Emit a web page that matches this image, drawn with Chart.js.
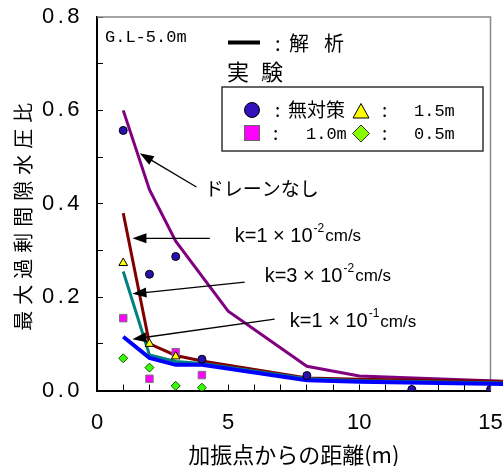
<!DOCTYPE html>
<html>
<head>
<meta charset="utf-8">
<script src="https://cdn.jsdelivr.net/npm/chart.js@4.4.1/dist/chart.umd.min.js"></script>
<style>
body { margin: 0; background: #fff; }
#wrap { width: 503px; height: 466px; }
</style>
</head>
<body>
<div id="wrap"><canvas id="myChart" width="503" height="466"></canvas></div>
<script>
// analysis curves: distance from source (m) -> max excess pore pressure ratio
var noDrainX = [1, 2, 3, 5, 8, 10, 15.5];
var noDrainY = [0.60, 0.43, 0.32, 0.17, 0.052, 0.031, 0.020];
var drainX = [1, 2, 3, 4, 8, 10, 15.5];
var k1e2Y = [0.38, 0.10, 0.075, 0.063, 0.027, 0.024, 0.019];
var k3e2Y = [0.255, 0.076, 0.062, 0.058, 0.025, 0.021, 0.016];
var k1e1Y = [0.115, 0.070, 0.055, 0.055, 0.022, 0.019, 0.014];

// experiments
var noneX = [1, 2, 3, 4, 8, 12, 15];
var noneY = [0.557, 0.249, 0.287, 0.067, 0.032, 0.002, 0.002];
var d15X = [1, 2, 3];
var d15Y = [0.273, 0.100, 0.073];
var d10X = [1, 2, 3, 4];
var d10Y = [0.155, 0.025, 0.082, 0.033];
var d05X = [1, 2, 3, 4];
var d05Y = [0.069, 0.049, 0.010, 0.006];

var xTickLabels = ['0', '5', '10', '15'];
var yTickLabels = ['0.0', '0.2', '0.4', '0.6', '0.8'];

// arrows (data units): tail x, tail y, tip x, tip y
var arrows = [
  [3.79, 0.436, 1.63, 0.508],
  [4.30, 0.326, 1.35, 0.326],
  [5.63, 0.232, 1.35, 0.207],
  [6.77, 0.153, 1.35, 0.110]
];
// k labels: x, y, mantissa, exponent
var kLabels = [
  [5.25, 0.330, '1', '-2'],
  [6.39, 0.244, '3', '-2'],
  [7.35, 0.147, '1', '-1']
];

var JP = '"Noto Sans CJK JP", sans-serif';
var SANS = '"Liberation Sans", Arial, sans-serif';
var MONO = '"Liberation Mono", monospace';

function pts(xs, ys) {
  return xs.map(function(x, i) { return {x: x, y: ys[i]}; });
}

function curve(label, xs, ys, color, width, order) {
  return {
    label: label, data: pts(xs, ys), showLine: true, fill: false,
    borderColor: color, borderWidth: width, pointRadius: 0,
    order: order, clip: {left: 0, top: 0, right: 20, bottom: 0}
  };
}

function arrow(ctx, x1, y1, x2, y2) {
  var a = Math.atan2(y2 - y1, x2 - x1);
  var c = Math.cos(a), s = Math.sin(a);
  ctx.beginPath();
  ctx.moveTo(x1, y1);
  ctx.lineTo(x2 - 10 * c, y2 - 10 * s);
  ctx.stroke();
  ctx.beginPath();
  ctx.moveTo(x2, y2);
  ctx.lineTo(x2 - 14 * c + 5 * s, y2 - 14 * s - 5 * c);
  ctx.lineTo(x2 - 14 * c - 5 * s, y2 - 14 * s + 5 * c);
  ctx.closePath();
  ctx.fill();
}

function kText(ctx, x, y, mant, exp) {
  ctx.textAlign = 'left';
  ctx.textBaseline = 'middle';
  ctx.font = '20px ' + SANS;
  var t = 'k=' + mant + ' \u00d7 10';
  ctx.fillText(t, x, y);
  var w = ctx.measureText(t).width;
  ctx.font = '12px ' + SANS;
  ctx.fillText(exp, x + w + 1, y - 8);
  w += ctx.measureText(exp).width + 2;
  ctx.font = '17px ' + SANS;
  ctx.fillText('cm/s', x + w, y);
}

var spacing = {
  id: 'spacing',
  afterLayout: function(chart) {
    var y = chart.scales.y;
    if (y._spaced) return;
    y._spaced = true;
    var ctx = chart.ctx;
    var drawLabels = y.drawLabels, drawTitle = y.drawTitle;
    y.drawLabels = function(area) {
      ctx.save(); ctx.letterSpacing = '3.5px';
      drawLabels.call(y, area);
      ctx.restore();
    };
    y.drawTitle = function() {
      ctx.save(); ctx.letterSpacing = '6px'; ctx.translate(0, 10);
      drawTitle.call(y);
      ctx.restore();
    };
  }
};

var annot = {
  id: 'annot',
  beforeDatasetsDraw: function(chart) {
    var ctx = chart.ctx, a = chart.chartArea;
    ctx.save();
    ctx.strokeStyle = '#888';
    ctx.lineWidth = 1.5;
    ctx.beginPath();
    ctx.moveTo(a.left, a.top);
    ctx.lineTo(a.right, a.top);
    ctx.lineTo(a.right, a.bottom);
    ctx.stroke();
    ctx.restore();
  },
  afterDatasetsDraw: function(chart) {
    var ctx = chart.ctx, xs = chart.scales.x, ys = chart.scales.y;
    ctx.save();
    ctx.fillStyle = '#000';
    ctx.strokeStyle = '#000';
    ctx.lineWidth = 1.3;
    arrows.forEach(function(r) {
      arrow(ctx, xs.getPixelForValue(r[0]), ys.getPixelForValue(r[1]),
        xs.getPixelForValue(r[2]), ys.getPixelForValue(r[3]));
    });
    ctx.textAlign = 'left';
    ctx.textBaseline = 'middle';
    ctx.font = '19px ' + JP;
    ctx.fillText('ドレーンなし', xs.getPixelForValue(4.11), ys.getPixelForValue(0.433));
    kLabels.forEach(function(k) {
      kText(ctx, xs.getPixelForValue(k[0]), ys.getPixelForValue(k[1]), k[2], k[3]);
    });

    // header texts
    ctx.textBaseline = 'alphabetic';
    ctx.font = '17px ' + MONO;
    ctx.fillText('G.L-5.0m', 105, 42);
    ctx.fillRect(228, 40.5, 32, 4);
    ctx.textBaseline = 'middle';
    ctx.font = '20px ' + JP;
    ctx.fillText(':', 275, 43);
    ctx.fillText('解', 289, 43);
    ctx.fillText('析', 324, 43);
    ctx.font = '22px ' + JP;
    ctx.fillText('実', 227, 71.5);
    ctx.fillText('験', 261, 71.5);

    // legend box
    ctx.fillStyle = '#fff';
    ctx.fillRect(222, 87, 261, 64);
    ctx.strokeStyle = '#333';
    ctx.lineWidth = 1.5;
    ctx.strokeRect(222, 87, 261, 64);

    ctx.lineWidth = 1;
    ctx.strokeStyle = '#000';
    ctx.fillStyle = '#3311bb';
    ctx.beginPath(); ctx.arc(252, 110, 7.5, 0, Math.PI * 2); ctx.fill(); ctx.stroke();
    ctx.fillStyle = '#ffff00';
    ctx.beginPath(); ctx.moveTo(361, 103.5); ctx.lineTo(369, 118); ctx.lineTo(353, 118); ctx.closePath(); ctx.fill(); ctx.stroke();
    ctx.fillStyle = '#ff00ff';
    ctx.strokeStyle = '#666';
    ctx.fillRect(244.5, 125.5, 15, 15); ctx.strokeRect(244.5, 125.5, 15, 15);
    ctx.fillStyle = '#88ff00';
    ctx.strokeStyle = '#333';
    ctx.beginPath(); ctx.moveTo(361, 125); ctx.lineTo(369.5, 133.5); ctx.lineTo(361, 142); ctx.lineTo(352.5, 133.5); ctx.closePath(); ctx.fill(); ctx.stroke();

    ctx.fillStyle = '#000';
    ctx.font = '19px ' + JP;
    ctx.fillText(':', 275, 110);
    ctx.fillText('無対策', 288, 110);
    ctx.fillText(':', 382, 110);
    ctx.fillText(':', 273, 133);
    ctx.fillText(':', 382, 133);
    ctx.font = '17px ' + MONO;
    ctx.fillText('1.5m', 414, 111);
    ctx.fillText('1.0m', 306, 134);
    ctx.fillText('0.5m', 414, 134);
    ctx.restore();
  }
};

var ctx = document.getElementById('myChart').getContext('2d');
var chart = new Chart(ctx, {
  type: 'scatter',
  data: {
    datasets: [
      { label: '1.5m', data: pts(d15X, d15Y), pointStyle: 'triangle', pointRadius: 5,
        backgroundColor: '#ffff00', borderColor: '#000', borderWidth: 1, order: 0 },
      { label: '無対策', data: pts(noneX, noneY), pointStyle: 'circle', pointRadius: 4,
        backgroundColor: '#2a10b0', borderColor: '#000', borderWidth: 1, order: 1 },
      { label: '1.0m', data: pts(d10X, d10Y), pointStyle: 'rect', pointRadius: 5.3,
        backgroundColor: '#ff00ff', borderColor: '#777', borderWidth: 1, order: 2 },
      { label: '0.5m', data: pts(d05X, d05Y), pointStyle: 'rectRot', pointRadius: 4.5,
        backgroundColor: '#33ff00', borderColor: '#115500', borderWidth: 1, order: 3 },
      curve('k=1×10^-1cm/s', drainX, k1e1Y, '#0000ff', 4, 4),
      curve('k=3×10^-2cm/s', drainX, k3e2Y, '#008080', 3, 5),
      curve('k=1×10^-2cm/s', drainX, k1e2Y, '#800000', 3, 6),
      curve('ドレーンなし', noDrainX, noDrainY, '#800080', 3, 7)
    ]
  },
  options: {
    responsive: false,
    animation: false,
    events: [],
    layout: { padding: { top: 17, right: 12.5, bottom: 0, left: 0 } },
    plugins: { legend: { display: false }, tooltip: { enabled: false } },
    scales: {
      x: {
        type: 'linear', min: 0, max: 15,
        ticks: {
          stepSize: 1, autoSkip: false, maxRotation: 0, padding: 25, color: '#000',
          font: { family: SANS, size: 22 },
          callback: function(v) {
            var s = String(v);
            return xTickLabels.indexOf(s) >= 0 ? s : '';
          }
        },
        grid: { drawOnChartArea: false, tickLength: -6, color: '#000', lineWidth: 1 },
        border: { color: '#000', width: 2 },
        title: { display: true, text: '加振点からの距離(m)', color: '#000',
          font: { family: JP, size: 22, lineHeight: 1 }, padding: { top: 0, bottom: 0 } },
        afterFit: function(s) { s.height = 75.5; s.paddingLeft = 0; s.paddingRight = 0; }
      },
      y: {
        min: 0, max: 0.8,
        ticks: {
          stepSize: 0.1, autoSkip: false, padding: 20, color: '#000',
          font: { family: SANS, size: 22 },
          callback: function(v) {
            var s = v.toFixed(1);
            return yTickLabels.indexOf(s) >= 0 ? s : '';
          }
        },
        grid: { drawOnChartArea: false, tickLength: -6, color: '#000', lineWidth: 1 },
        border: { color: '#000', width: 2 },
        title: { display: true, text: '最大過剰間隙水圧比', color: '#000',
          font: { family: JP, size: 20, lineHeight: 1.2 }, padding: { top: 11, bottom: 0 } },
        afterFit: function(s) { s.width = 97; s.paddingTop = 0; s.paddingBottom = 0; }
      }
    }
  },
  plugins: [spacing, annot]
});
</script>
</body>
</html>
